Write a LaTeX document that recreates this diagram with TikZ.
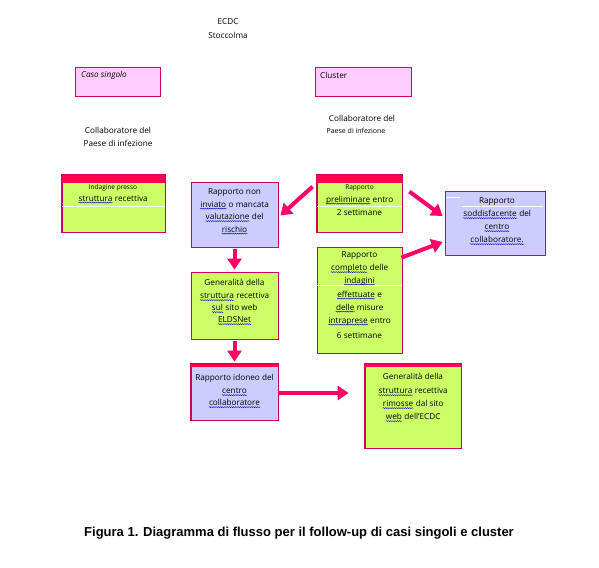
\documentclass[tikz,border=0pt]{standalone}
\usepackage{fontspec}
\setmainfont{Open Sans}
\newfontfamily\capfont{Liberation Sans}
\usetikzlibrary{arrows.meta,calc,decorations.pathmorphing}
\definecolor{pinkfill}{HTML}{FFCCFF}
\definecolor{lavfill}{HTML}{CCCCFF}
\definecolor{greenfill}{HTML}{CCFF66}
\definecolor{edge}{HTML}{CC0066}
\definecolor{band}{HTML}{FF0055}
\definecolor{arrowc}{HTML}{FF0066}
\newcommand\sqw[1]{\tikz[baseline=(w.base)]{\node[inner sep=0pt,anchor=base] (w) {#1};
  \draw[blue!80!black, line width=0.4pt, decorate, decoration={snake,amplitude=0.5pt,segment length=2.2pt}] ([yshift=-1.6pt]w.base west) -- ([yshift=-1.6pt]w.base east);}}
\tikzset{
  box/.style={draw=edge, line width=0.8pt, inner sep=0pt},
  txt/.style={font=\fontsize{8.2}{10}\selectfont, inner sep=0pt, anchor=base},
  small/.style={font=\fontsize{6.5}{8}\selectfont, inner sep=0pt, anchor=base},
  lbl/.style={font=\fontsize{8.2}{10}\selectfont, inner sep=0pt},
  arr/.style={draw=arrowc, line width=4pt, -{Triangle[length=11pt,width=14pt]}},
  wline/.style={draw=white, line width=0.8pt}
}
\begin{document}
\begin{tikzpicture}[x=1pt,y=-1pt]
\useasboundingbox (0,0) rectangle (599,567);
% header
\node[lbl] (ecdc) at (228,22) {ECDC};
\node[lbl] (stock) at (228,35) {Stoccolma};
% top boxes
\node[box, fill=pinkfill, minimum width=85pt, minimum height=29pt] (caso) at (117.5,81.5) {};
\node[lbl, anchor=west, font=\fontsize{8.2}{10}\selectfont\itshape] (casot) at (81,75) {Caso singolo};
\node[box, fill=pinkfill, minimum width=96pt, minimum height=29pt] (clus) at (363,81.5) {};
\node[lbl, anchor=west] (clust) at (320,75) {Cluster};
\node[lbl] (coll1a) at (118,130) {Collaboratore del};
\node[lbl] (coll1b) at (118,143) {Paese di infezione};
\node[lbl] (coll2a) at (362,118) {Collaboratore del};
\node[lbl, font=\fontsize{7}{8}\selectfont] (coll2b) at (356,131) {Paese di infezione};
% indagine
\node[box, fill=greenfill, minimum width=103pt, minimum height=57pt] (inda) at (113.5,203.5) {};
\fill[band] (inda.north west) rectangle ($(inda.north east)+(0,8)$);
\draw[wline] ($(inda.west)+(0.5,2.5)$) -- ($(inda.east)+(-0.5,2.5)$);
\draw[edge, line width=0.8pt] (inda.north west) rectangle (inda.south east);
\node[small] (inda1) at (113,189) {Indagine presso};
\node[txt] (inda2) at (113,201) {\sqw{struttura} recettiva};
% non inviato
\node[box, fill=lavfill, minimum width=87pt, minimum height=65pt] (noninv) at (234.5,214.5) {};
\node[txt] (ni1) at (234.5,194) {Rapporto non};
\node[txt] (ni2) at (234.5,207) {\sqw{inviato} o mancata};
\node[txt] (ni3) at (234.5,219.5) {\sqw{valutazione} del};
\node[txt] (ni4) at (234.5,232) {\sqw{rischio}};
% preliminare
\node[box, fill=greenfill, minimum width=85pt, minimum height=57pt] (prel) at (359.5,203.5) {};
\fill[band] (prel.north west) rectangle ($(prel.north east)+(0,8)$);
\draw[wline] ($(prel.west)+(0.5,2.5)$) -- ($(prel.east)+(-0.5,2.5)$);
\draw[edge, line width=0.8pt] (prel.north west) rectangle (prel.south east);
\node[small] (pr1) at (359.5,189) {Rapporto};
\node[txt] (pr2) at (359.5,202) {\sqw{preliminare} entro};
\node[txt] (pr3) at (359.5,215) {2 settimane};
% soddisfacente
\node[box, fill=lavfill, minimum width=100pt, minimum height=64pt] (sodd) at (495,223) {};
\draw[wline] (447,197) -- (460,197);
\draw[wline] (462,206) -- (543,206);
\node[txt] (so1) at (497,203) {Rapporto};
\node[txt] (so2) at (497,216.5) {\sqw{soddisfacente} del};
\node[txt] (so3) at (497,229.5) {\sqw{centro}};
\node[txt] (so4) at (497,242.5) {\sqw{collaboratore.}};
% completo
\node[box, fill=greenfill, minimum width=85pt, minimum height=106pt] (compl) at (359.5,300) {};
\draw[wline] ($(compl.west)+(0.5,-15)$) -- ($(compl.east)+(-0.5,-15)$);
\node[txt] (co1) at (359.5,257.5) {Rapporto};
\node[txt] (co2) at (359.5,270.5) {\sqw{completo} delle};
\node[txt] (co3) at (359.5,283) {\sqw{indagini}};
\node[txt] (co4) at (359.5,297) {\sqw{effettuate} e};
\node[txt] (co5) at (359.5,310) {\sqw{delle} misure};
\node[txt] (co6) at (359.5,323) {\sqw{intraprese} entro};
\node[txt] (co7) at (359.5,338.5) {6 settimane};
% generalita
\node[box, fill=greenfill, minimum width=87pt, minimum height=67pt] (gen) at (234.5,305.5) {};
\node[txt] (ge1) at (234.5,285.5) {Generalità della};
\node[txt] (ge2) at (234.5,298.5) {\sqw{struttura} recettiva};
\node[txt] (ge3) at (234.5,310.5) {\sqw{sul} sito web};
\node[txt] (ge4) at (234.5,322.5) {\sqw{ELDSNet}};
% idoneo
\node[box, fill=lavfill, minimum width=87pt, minimum height=56pt] (idon) at (234.5,392) {};
\fill[band] (idon.north west) rectangle ($(idon.north east)+(0,3)$);
\draw[edge, line width=0.8pt] (idon.north west) rectangle (idon.south east);
\node[txt] (id1) at (234.5,380.5) {Rapporto idoneo del};
\node[txt] (id2) at (234.5,393.5) {\sqw{centro}};
\node[txt] (id3) at (234.5,405.5) {\sqw{collaboratore}};
% rimosse
\node[box, fill=greenfill, minimum width=96pt, minimum height=84pt] (rim) at (413,406) {};
\fill[band] (rim.north west) rectangle ($(rim.north east)+(0,3.5)$);
\draw[edge, line width=0.8pt] (rim.north west) rectangle (rim.south east);
\node[txt] (ri1) at (413,379.5) {Generalità della};
\node[txt] (ri2) at (413,393.5) {\sqw{struttura} recettiva};
\node[txt] (ri3) at (413,406.5) {\sqw{rimosse} dal sito};
\node[txt] (ri4) at (413,419.5) {\sqw{web} dell'ECDC};
% arrows
\draw[arr] ($(prel.north west)+(-4,12)$) -- ($(noninv.east)+(2,1)$);
\draw[arr] ($(prel.north east)+(7,17)$) -- ($(sodd.west)+(-2,-7)$);
\draw[arr] ($(compl.north east)+(-1,11)$) -- ($(sodd.west)+(-2,19)$);
\draw[arr] ($(noninv.south)+(0,2)$) -- ($(gen.north)+(0,-2)$);
\draw[arr] ($(gen.south)+(0,2)$) -- ($(idon.north)+(0,-2)$);
\draw[arr] ($(idon.east)+(0,1)$) -- ($(rim.west)+(-16,-13)$);
% caption
\node[font=\capfont\bfseries\fontsize{13}{15}\selectfont] (cap) at (299,533) {Figura 1. Diagramma di flusso per il follow-up di casi singoli e cluster};
\end{tikzpicture}
\end{document}
